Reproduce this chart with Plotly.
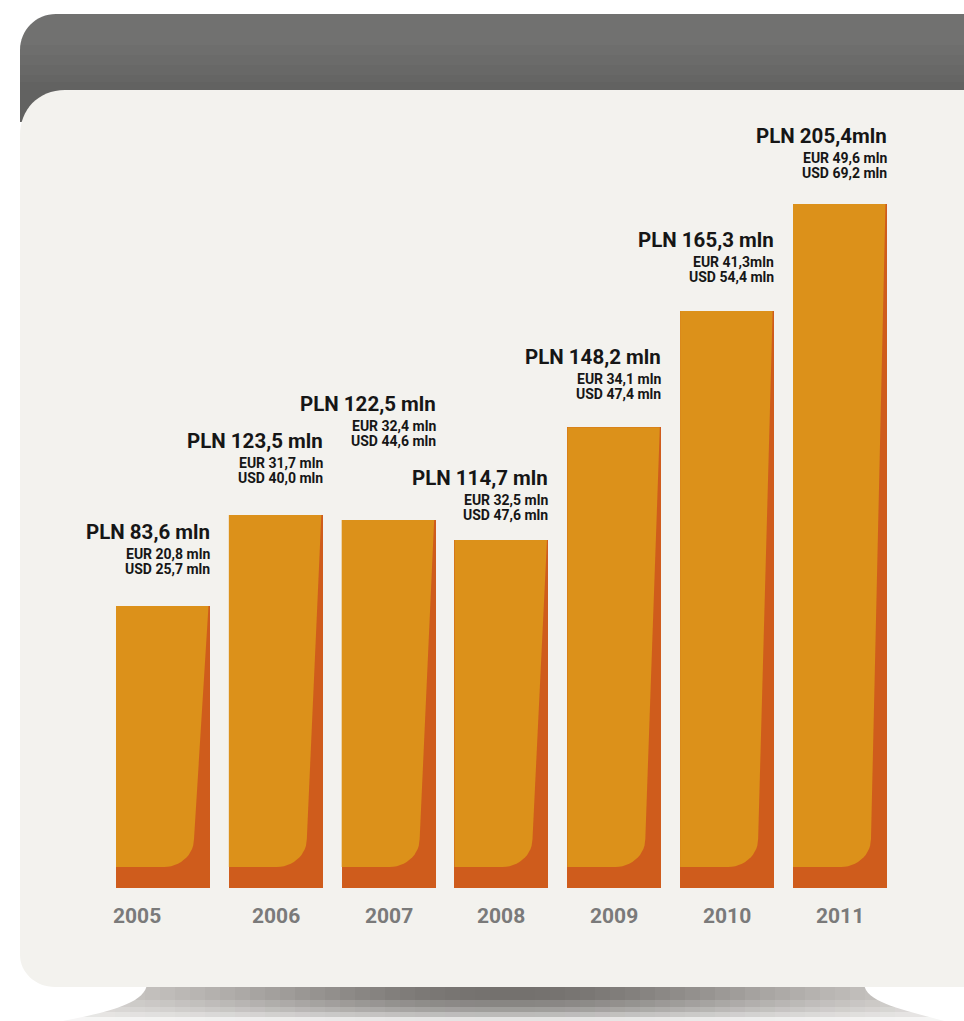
import numpy as np
import plotly.graph_objects as go

# ---------------- data ----------------
years = ["2005", "2006", "2007", "2008", "2009", "2010", "2011"]
# bar heights as drawn in the (not-to-scale) infographic, in PLN mln-equivalent units
bar_heights = [84.7, 112.0, 110.5, 104.5, 138.4, 173.3, 205.4]
pln_labels = ["PLN 83,6 mln", "PLN 123,5 mln", "PLN 122,5 mln", "PLN 114,7 mln",
              "PLN 148,2 mln", "PLN 165,3 mln", "PLN 205,4mln"]
eur_labels = ["EUR 20,8 mln", "EUR 31,7 mln", "EUR 32,4 mln", "EUR 32,5 mln",
              "EUR 34,1 mln", "EUR 41,3mln", "EUR 49,6 mln"]
usd_labels = ["USD 25,7 mln", "USD 40,0 mln", "USD 44,6 mln", "USD 47,6 mln",
              "USD 47,4 mln", "USD 54,4 mln", "USD 69,2 mln"]

# ---------------- geometry / style ----------------
W, H = 964, 1021
X0_PX = 163.0        # pixel centre of the first bar
DX_PX = 112.83       # pixels per category
BASE_PX = 888.0      # baseline pixel row
K = 3.33             # pixels per unit
BAR_PX = 94.0
label_lift = [0, 0, 42, -12, -4, -3, -6]   # per-label vertical nudges (px)

ORANGE = "#DC911A"
DARK = "#CF5C1C"
CREAM = "#F3F2EE"
TEXT = "#161616"
YEAR = "#7a7a7a"
FONT = "Roboto"

bw = BAR_PX / DX_PX
xr = [-X0_PX / DX_PX, (W - X0_PX) / DX_PX]
yr = [-(H - BASE_PX) / K, BASE_PX / K]

def ux(px):
    return px / DX_PX

def uy(px):
    return px / K

xs = np.arange(len(years))

fig = go.Figure()

# dark base bars
fig.add_trace(go.Bar(x=xs, y=bar_heights, width=bw, marker=dict(color=DARK, line=dict(width=0)),
                     hoverinfo="skip", showlegend=False))

# orange face of each bar (leaves dark wedge on the right and strip at bottom)
strip = uy(21)
for i, h in zip(xs, bar_heights):
    left, right = i - bw / 2, i + bw / 2
    rx, ry = ux(30), uy(28)
    edge_x = right - ux(16)
    cx, cy = edge_x - rx, strip + ry
    t = np.linspace(0, -np.pi / 2, 14)
    px_ = [left, right - ux(1.5), edge_x] + list(cx + rx * np.cos(t)) + [left]
    py_ = [h, h, cy] + list(cy + ry * np.sin(t)) + [strip]
    fig.add_trace(go.Scatter(x=px_, y=py_, mode="lines", fill="toself", fillcolor=ORANGE,
                             line=dict(width=0, color=ORANGE), hoverinfo="skip", showlegend=False))

# labels
for i, h, a, b, c in zip(xs, bar_heights, pln_labels, eur_labels, usd_labels):
    right = i + bw / 2
    lift = label_lift[i]
    fig.add_annotation(x=right, y=h, text=a, showarrow=False, xanchor="right", yanchor="middle",
                       yshift=74 + lift, xshift=2, font=dict(family=FONT, size=20.5, color=TEXT, weight=700))
    fig.add_annotation(x=right, y=h, text=b, showarrow=False, xanchor="right", yanchor="middle",
                       yshift=52 + lift, xshift=2, font=dict(family=FONT, size=14, color=TEXT, weight=700))
    fig.add_annotation(x=right, y=h, text=c, showarrow=False, xanchor="right", yanchor="middle",
                       yshift=37 + lift, xshift=2, font=dict(family=FONT, size=14, color=TEXT, weight=700))

for i, yv in zip(xs, years):
    fig.add_annotation(x=i, y=0, text=yv, showarrow=False, xanchor="center", yanchor="middle",
                       yshift=-28, xshift=(-26 if i == 0 else 0),
                       font=dict(family=FONT, size=21, color=YEAR, weight=700))

# ---------------- background decoration (paper coords) ----------------
def P(x, y):
    return f"{x / W:.5f},{1 - y / H:.5f}"

def rect(x0, y0, x1, y1, color, op=1.0):
    return dict(type="rect", xref="paper", yref="paper", layer="below",
                x0=x0 / W, x1=x1 / W, y0=1 - y1 / H, y1=1 - y0 / H,
                fillcolor=color, opacity=op, line=dict(width=0))

shapes = []
# shadow under the panel: horizontal gradient strips
n = 60
edges = np.linspace(55, 955, n + 1)
for a, b in zip(edges[:-1], edges[1:]):
    xm = (a + b) / 2
    tt = np.exp(-((xm - 510) / 310) ** 2)
    v = int(round(222 - (222 - 116) * tt))
    col = f"rgb({v},{max(v - 3, 0)},{max(v - 6, 0)})"
    shapes.append(rect(a, 985, b + 0.8, 1021, col))
# vertical fade toward the bottom
for y0, op in [(1000, 0.15), (1007, 0.2), (1012, 0.3), (1017, 0.6)]:
    shapes.append(rect(0, y0, W, 1021, "white", op))
# white masks giving the pedestal its curved flanks
shapes.append(dict(type="path", xref="paper", yref="paper", layer="below",
                   path=f"M {P(0, 984)} L {P(147, 984)} C {P(145, 1003)} {P(110, 1012)} {P(60, 1021.5)} "
                        f"L {P(0, 1021.5)} Z", fillcolor="white", line=dict(width=0)))
shapes.append(dict(type="path", xref="paper", yref="paper", layer="below",
                   path=f"M {P(864, 984)} L {P(964, 984)} L {P(964, 1021.5)} L {P(946, 1021.5)} "
                        f"C {P(905, 1010)} {P(866, 1003)} {P(864, 984)} Z",
                   fillcolor="white", line=dict(width=0)))

# grey header band
shapes.append(dict(type="path", xref="paper", yref="paper", layer="below",
                   path=f"M {P(20, 122)} L {P(20, 50)} C {P(20, 30)} {P(36, 14)} {P(56, 14)} "
                        f"L {P(964, 14)} L {P(964, 122)} Z",
                   fillcolor="#717170", line=dict(width=0)))
for y0 in [45, 55, 65, 75, 82]:
    shapes.append(rect(20, y0, W, 122, "#4a4a48", 0.07))

# cream panel
shapes.append(dict(type="path", xref="paper", yref="paper", layer="below",
                   path=f"M {P(20, 135)} C {P(20, 110)} {P(38, 90)} {P(65, 90)} "
                        f"L {P(964, 90)} L {P(964, 987)} L {P(55, 987)} "
                        f"C {P(35, 987)} {P(20, 972)} {P(20, 955)} Z",
                   fillcolor=CREAM, line=dict(width=0)))

fig.update_layout(
    width=W, height=H, margin=dict(l=0, r=0, t=0, b=0),
    paper_bgcolor="white", plot_bgcolor="rgba(0,0,0,0)",
    xaxis=dict(range=xr, visible=False, fixedrange=True),
    yaxis=dict(range=yr, visible=False, fixedrange=True),
    shapes=shapes, showlegend=False, bargap=0,
)

fig.write_html("out.html", config={"displayModeBar": False},
               post_script="document.body.style.margin='0';document.body.style.overflow='hidden';")
